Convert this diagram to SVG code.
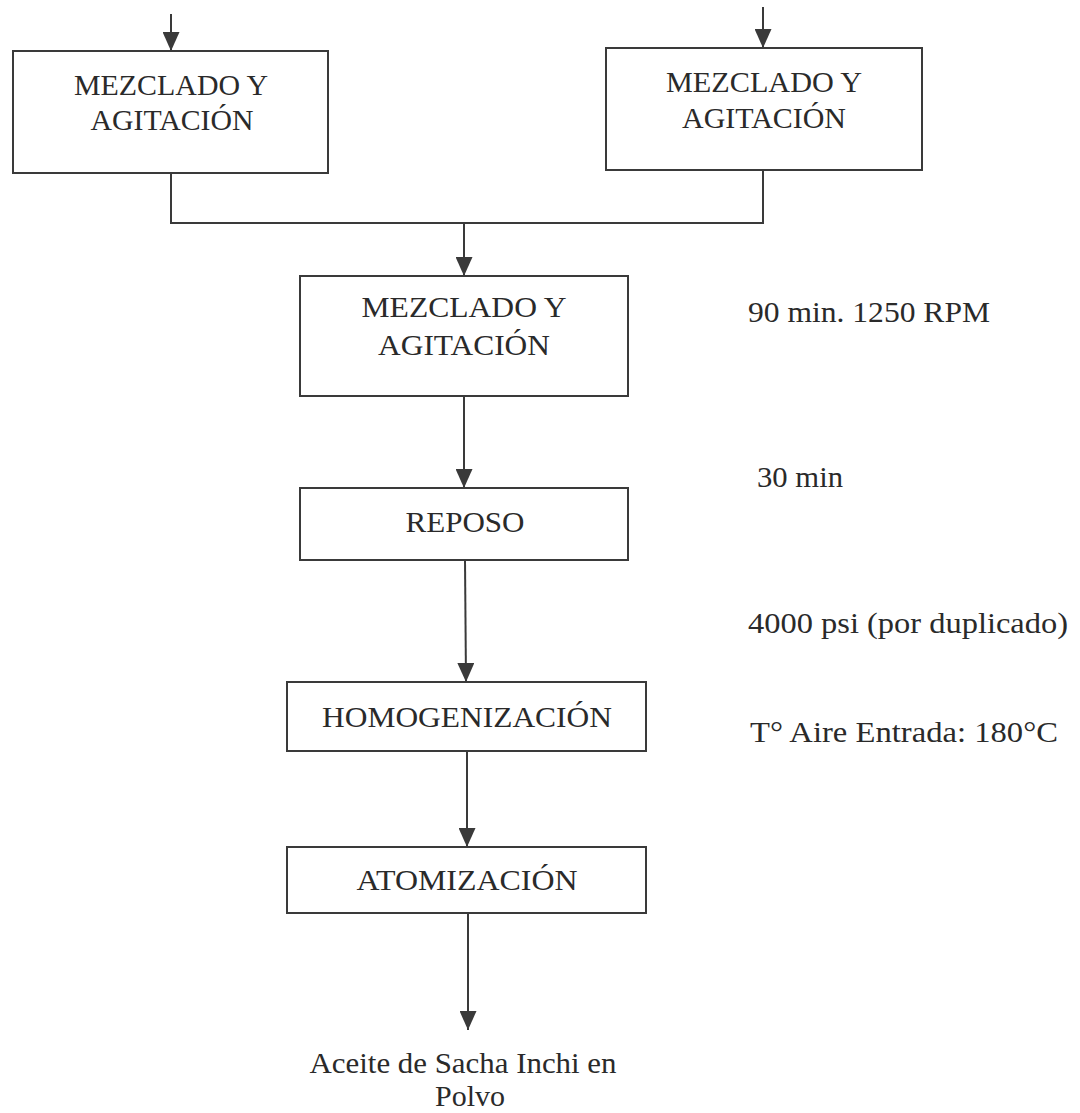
<svg xmlns="http://www.w3.org/2000/svg" width="1080" height="1113" viewBox="0 0 1080 1113">
<style>
.box{fill:#fff;stroke:#3a3a3a;stroke-width:2}
.ln{fill:none;stroke:#3a3a3a;stroke-width:2}
text{font-family:"Liberation Serif","Times New Roman",serif;font-size:29px;fill:#2a2a2a}
.c{text-anchor:middle}
</style>
<defs>
<marker id="ah2" viewBox="0 0 10 10" refX="10" refY="5" markerWidth="19" markerHeight="17" markerUnits="userSpaceOnUse" orient="auto" preserveAspectRatio="none">
<path d="M0,0 L10,5 L0,10 Z" fill="#3a3a3a"/>
</marker>
</defs>
<rect width="1080" height="1113" fill="#fff"/>
<g id="connectors">
<line class="ln" x1="171" y1="14" x2="171" y2="51" marker-end="url(#ah2)"/>
<line class="ln" x1="763" y1="7" x2="763" y2="48" marker-end="url(#ah2)"/>
<polyline class="ln" points="171,173 171,223 763,223 763,170"/>
<line class="ln" x1="464" y1="223" x2="464" y2="276" marker-end="url(#ah2)"/>
<line class="ln" x1="464" y1="396" x2="464" y2="488" marker-end="url(#ah2)"/>
<line class="ln" x1="465" y1="560" x2="466" y2="682" marker-end="url(#ah2)"/>
<line class="ln" x1="467" y1="751" x2="467" y2="847" marker-end="url(#ah2)"/>
<line class="ln" x1="468" y1="913" x2="468" y2="1030" marker-end="url(#ah2)"/>
</g>
<g id="n1">
<rect class="box" x="13" y="51" width="315" height="122"/>
<text class="c" x="171" y="95" textLength="194" lengthAdjust="spacingAndGlyphs">MEZCLADO Y</text>
<text class="c" x="172" y="130" textLength="163" lengthAdjust="spacingAndGlyphs">AGITACIÓN</text>
</g>
<g id="n2">
<rect class="box" x="606" y="48" width="316" height="122"/>
<text class="c" x="764" y="92" textLength="196" lengthAdjust="spacingAndGlyphs">MEZCLADO Y</text>
<text class="c" x="764" y="128" textLength="164" lengthAdjust="spacingAndGlyphs">AGITACIÓN</text>
</g>
<g id="n3">
<rect class="box" x="300" y="276" width="328" height="120"/>
<text class="c" x="464" y="317" textLength="205" lengthAdjust="spacingAndGlyphs">MEZCLADO Y</text>
<text class="c" x="464" y="355" textLength="172" lengthAdjust="spacingAndGlyphs">AGITACIÓN</text>
</g>
<g id="n4">
<rect class="box" x="300" y="488" width="328" height="72"/>
<text class="c" x="465" y="532" textLength="119" lengthAdjust="spacingAndGlyphs">REPOSO</text>
</g>
<g id="n5">
<rect class="box" x="287" y="682" width="359" height="69"/>
<text class="c" x="467" y="727" textLength="290" lengthAdjust="spacingAndGlyphs">HOMOGENIZACIÓN</text>
</g>
<g id="n6">
<rect class="box" x="287" y="847" width="359" height="66"/>
<text class="c" x="467" y="890" textLength="221" lengthAdjust="spacingAndGlyphs">ATOMIZACIÓN</text>
</g>
<g id="out">
<text class="c" x="463" y="1073" textLength="307" lengthAdjust="spacingAndGlyphs">Aceite de Sacha Inchi en</text>
<text class="c" x="470" y="1106" textLength="70" lengthAdjust="spacingAndGlyphs">Polvo</text>
</g>
<g id="notes">
<text x="748" y="322" textLength="242" lengthAdjust="spacingAndGlyphs">90 min. 1250 RPM</text>
<text x="757" y="487" textLength="86" lengthAdjust="spacingAndGlyphs">30 min</text>
<text x="748" y="633" textLength="320" lengthAdjust="spacingAndGlyphs">4000 psi (por duplicado)</text>
<text x="750" y="742" textLength="308" lengthAdjust="spacingAndGlyphs">T° Aire Entrada: 180°C</text>
</g>
</svg>
